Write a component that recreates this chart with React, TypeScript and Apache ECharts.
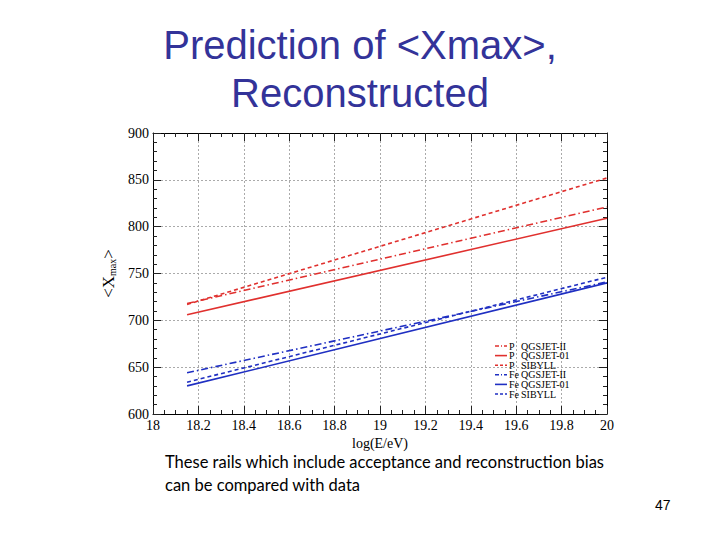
import React, { useEffect, useRef } from "react";
import * as echarts from "echarts";

const energies = [18.15, 20];
const pQgsjetII = [718, 821];
const pQgsjet01 = [706, 809];
const pSibyll = [717, 852];
const feQgsjetII = [644, 741];
const feQgsjet01 = [630, 740];
const feSibyll = [634, 746];

const seriesPrefixes = ["P", "P", "P", "Fe", "Fe", "Fe"];
const seriesModels = ["QGSJET-II", "QGSJET-01", "SIBYLL", "QGSJET-II", "QGSJET-01", "SIBYLL"];
const seriesValues = [pQgsjetII, pQgsjet01, pSibyll, feQgsjetII, feQgsjet01, feSibyll];

const RED = "#e0302e";
const BLUE = "#1f2fc2";
const DASHDOT = [7, 3, 1.5, 3];
const DASHED = [4, 3];

export default function App() {
  const ref = useRef<HTMLDivElement>(null);
  useEffect(() => {
    if (!ref.current) return;
    const chart = echarts.init(ref.current, null, { renderer: "svg" });
    const styles = [
      { color: RED, type: DASHDOT },
      { color: RED, type: "solid" },
      { color: RED, type: DASHED },
      { color: BLUE, type: DASHDOT },
      { color: BLUE, type: "solid" },
      { color: BLUE, type: DASHED },
    ];
    const serif = "Liberation Serif";
    const axisCommon = {
      type: "value" as const,
      axisLine: { show: true, lineStyle: { color: "#000", width: 1 } },
      axisTick: { show: true, inside: true, length: 8, lineStyle: { color: "#222" } },
      minorTick: { show: true, length: 4, lineStyle: { color: "#222" } },
    };

    const legendGraphics: any[] = [];
    seriesModels.forEach((model, i) => {
      const y = 346 + i * 9.6;
      const st = styles[i];
      legendGraphics.push({
        type: "line",
        shape: { x1: 495, y1: y, x2: 507, y2: y },
        style: {
          stroke: st.color,
          lineWidth: 1.6,
          lineDash: st.type === "solid" ? null : st.type === DASHDOT ? [4, 2, 1, 2] : [3, 2],
        },
        z: 10,
      });
      legendGraphics.push({
        type: "text",
        x: 509,
        y: y,
        style: {
          text: seriesPrefixes[i],
          fontFamily: serif,
          fontSize: 10,
          fill: "#000",
          verticalAlign: "middle",
        },
        z: 10,
      });
      legendGraphics.push({
        type: "text",
        x: 521,
        y: y,
        style: {
          text: model,
          fontFamily: serif,
          fontSize: 10,
          fill: "#000",
          verticalAlign: "middle",
        },
        z: 10,
      });
    });

    chart.setOption({
      animation: false,
      backgroundColor: "#fff",
      grid: { left: 153, top: 133, width: 454, height: 281, containLabel: false },
      xAxis: [
        {
          ...axisCommon,
          min: 18,
          max: 20,
          interval: 0.2,
          minorTick: { ...axisCommon.minorTick, splitNumber: 4 },
          position: "bottom",
          axisLabel: { color: "#000", fontFamily: serif, fontSize: 14, margin: 4 },
          splitLine: { show: true, lineStyle: { color: "#aaa", type: [2, 2] } },
          name: "log(E/eV)",
          nameLocation: "middle",
          nameGap: 21,
          nameTextStyle: { color: "#000", fontFamily: serif, fontSize: 14 },
        },
        {
          ...axisCommon,
          min: 18,
          max: 20,
          interval: 0.2,
          minorTick: { ...axisCommon.minorTick, splitNumber: 4 },
          position: "top",
          axisLabel: { show: false },
          splitLine: { show: false },
        },
      ],
      yAxis: [
        {
          ...axisCommon,
          min: 600,
          max: 900,
          interval: 50,
          minorTick: { ...axisCommon.minorTick, splitNumber: 5 },
          position: "left",
          axisLabel: { color: "#000", fontFamily: serif, fontSize: 14, margin: 4 },
          splitLine: { show: true, lineStyle: { color: "#aaa", type: [2, 2] } },
          name: "<X{sub|max}>",
          nameLocation: "middle",
          nameRotate: 90,
          nameGap: 32,
          nameTextStyle: {
            color: "#000",
            fontFamily: serif,
            fontSize: 17,
            rich: {
              sub: { fontFamily: serif, fontSize: 10, verticalAlign: "bottom", padding: [7, 0, 0, 0] },
            },
          },
        },
        {
          ...axisCommon,
          min: 600,
          max: 900,
          interval: 50,
          minorTick: { ...axisCommon.minorTick, splitNumber: 5 },
          position: "right",
          axisLabel: { show: false },
          splitLine: { show: false },
        },
      ],
      series: seriesModels.map((model, i) => ({
        name: seriesPrefixes[i] + " " + model,
        type: "line",
        showSymbol: false,
        symbol: "none",
        data: energies.map((e, j) => [e, seriesValues[i][j]]),
        lineStyle: { color: styles[i].color, type: styles[i].type, width: 1.6 },
        itemStyle: { color: styles[i].color },
        z: 3,
      })),
      graphic: [
        {
          type: "text",
          x: 360,
          y: 45,
          style: {
            text: "Prediction of <Xmax>,",
            fontFamily: "Liberation Sans",
            fontSize: 40,
            fill: "#333399",
            align: "center",
            verticalAlign: "middle",
          },
        },
        {
          type: "text",
          x: 360,
          y: 93,
          style: {
            text: "Reconstructed",
            fontFamily: "Liberation Sans",
            fontSize: 40,
            fill: "#333399",
            align: "center",
            verticalAlign: "middle",
          },
        },
        {
          type: "text",
          x: 165,
          y: 462,
          style: {
            text: "These rails which include acceptance and reconstruction bias",
            fontFamily: "Lato",
            fontSize: 16.5,
            fill: "#000",
            verticalAlign: "middle",
          },
        },
        {
          type: "text",
          x: 165,
          y: 485,
          style: {
            text: "can be compared with data",
            fontFamily: "Lato",
            fontSize: 16.5,
            fill: "#000",
            verticalAlign: "middle",
          },
        },
        {
          type: "text",
          x: 655,
          y: 505,
          style: { text: "47", fontFamily: "Liberation Sans", fontSize: 14, fill: "#000", verticalAlign: "middle" },
        },
        ...legendGraphics,
      ],
    });
    return () => chart.dispose();
  }, []);
  return (
    <div
      ref={ref}
      style={{ position: "fixed", left: 0, top: 0, width: 720, height: 540, background: "#fff" }}
    />
  );
}
